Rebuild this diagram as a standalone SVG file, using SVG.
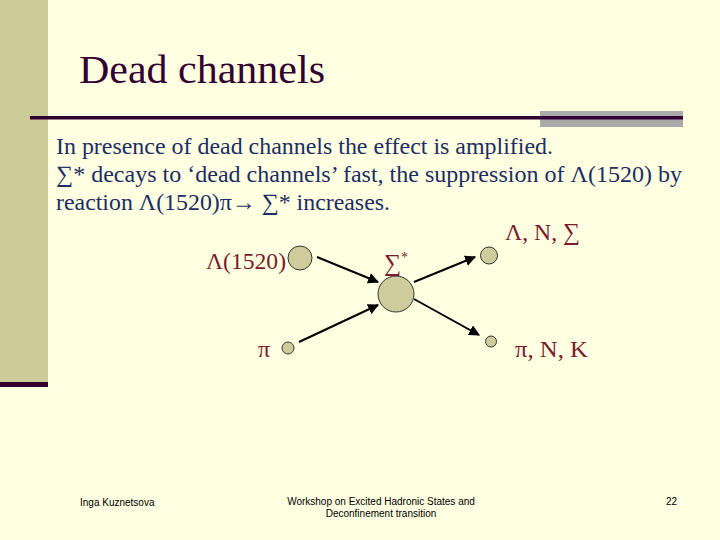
<svg xmlns="http://www.w3.org/2000/svg" width="720" height="540" viewBox="0 0 720 540">
<defs>
<style>
.body{font-family:"Liberation Serif","Times New Roman",serif;font-size:23.5px;fill:#1c2e66}
.lbl{font-family:"Liberation Serif","Times New Roman",serif;font-size:24px;fill:#7a1a2e}
.foot{font-family:"Liberation Sans",Arial,sans-serif;font-size:10px;fill:#000}
.node{fill:#cccc9c;stroke:#333;stroke-width:1}
.edge{stroke:#000;stroke-width:2;fill:none;marker-end:url(#ah)}
</style>
<marker id="ah" viewBox="0 0 10 10" refX="9" refY="5" markerWidth="5.5" markerHeight="5.5" orient="auto" markerUnits="strokeWidth">
<path d="M0,0 L10,5 L0,10 z" fill="#000"/>
</marker>
</defs>
<rect x="0" y="0" width="720" height="540" fill="#ffffe1"/>
<rect x="0" y="0" width="48" height="382" fill="#cccc99"/>
<rect x="0" y="382" width="48" height="5" fill="#330033"/>
<rect x="540" y="111" width="143" height="16" fill="#aaaaaa"/>
<rect x="30" y="116" width="653" height="3.5" fill="#330033"/>
<text x="79" y="83" font-family="'Liberation Serif','Times New Roman',serif" font-size="41" fill="#330033" textLength="246" lengthAdjust="spacingAndGlyphs">Dead channels</text>
<text class="body" x="56" y="154" textLength="497" lengthAdjust="spacingAndGlyphs">In presence of dead channels the effect is amplified.</text>
<text class="body" x="56" y="182" textLength="626" lengthAdjust="spacingAndGlyphs">∑* decays to ‘dead channels’ fast, the suppression of Λ(1520) by</text>
<text class="body" x="56" y="210" textLength="334" lengthAdjust="spacingAndGlyphs">reaction Λ(1520)π→ ∑* increases.</text>
<g id="connectors">
<line class="edge" x1="317" y1="257" x2="378" y2="282"/>
<line class="edge" x1="299" y1="342" x2="378" y2="305"/>
<line class="edge" x1="414" y1="282" x2="475" y2="257"/>
<line class="edge" x1="414" y1="299" x2="479" y2="335"/>
</g>
<g id="sigma-star">
<circle class="node" cx="396" cy="294" r="18"/>
<text class="lbl" x="384" y="271">∑<tspan font-size="14" dy="-9">*</tspan></text>
</g>
<g id="lambda1520">
<circle class="node" cx="300" cy="258" r="12"/>
<text class="lbl" x="286" y="269" text-anchor="end" textLength="80" lengthAdjust="spacingAndGlyphs">Λ(1520)</text>
</g>
<g id="pi-in">
<circle class="node" cx="288" cy="348" r="6"/>
<text class="lbl" x="258" y="357">π</text>
</g>
<g id="lambda-n-sigma">
<circle class="node" cx="489" cy="255.5" r="8.5"/>
<text class="lbl" x="505" y="240" textLength="75" lengthAdjust="spacingAndGlyphs">Λ, N, ∑</text>
</g>
<g id="pi-n-k">
<circle class="node" cx="491" cy="341.5" r="5.5"/>
<text class="lbl" x="515" y="357" textLength="73" lengthAdjust="spacingAndGlyphs">π, N, K</text>
</g>
<text class="foot" x="80" y="506">Inga Kuznetsova</text>
<text class="foot" x="381" y="505" text-anchor="middle">Workshop on Excited Hadronic States and</text>
<text class="foot" x="381" y="517" text-anchor="middle">Deconfinement transition</text>
<text class="foot" x="677" y="505" text-anchor="end">22</text>
</svg>
